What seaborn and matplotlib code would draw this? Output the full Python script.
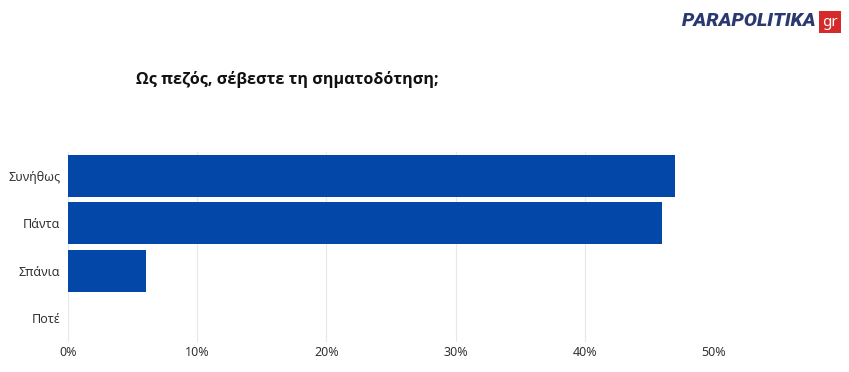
import matplotlib
matplotlib.use("Agg")
import matplotlib.pyplot as plt
import seaborn as sns
import pandas as pd

categories = ["Συνήθως", "Πάντα", "Σπάνια", "Ποτέ"]
values = [47, 46, 6, 0]
xticks = [0, 10, 20, 30, 40, 50]
xtick_labels = ["0%", "10%", "20%", "30%", "40%", "50%"]
title = "Ως πεζός, σέβεστε τη σηματοδότηση;"

sns.set_theme(style="white")
plt.rcParams["font.family"] = ["Noto Sans", "DejaVu Sans"]

df = pd.DataFrame({"cat": categories, "val": values})

fig = plt.figure(figsize=(8.49, 3.72), dpi=100)
W, H = 849, 372
left, right = 68, 714
top, bottom = 152, 342
ax = fig.add_axes([left / W, 1 - bottom / H, (right - left) / W, (bottom - top) / H])

sns.barplot(data=df, y="cat", x="val", order=categories, color="#0347a9",
            saturation=1, width=0.89, ax=ax, orient="h", linewidth=0)

ax.set_xlim(0, 50)
ax.set_ylim(3.5, -0.5)
ax.set_xticks(xticks)
ax.set_xticklabels(xtick_labels, fontsize=9, color="#333333")
ax.tick_params(axis="y", labelsize=9, labelcolor="#333333", length=0, pad=5.5)
ax.tick_params(axis="x", length=0, pad=3)
ax.set_xlabel("")
ax.set_ylabel("")
ax.grid(axis="x", color="#e8e8e8", linewidth=0.8)
ax.set_axisbelow(True)
for s in ax.spines.values():
    s.set_visible(False)

fig.text(136 / W, 1 - 80 / H, title, fontsize=11.6, fontweight="bold",
         color="#111111", va="center", ha="left", family=["Open Sans", "DejaVu Sans"])

# logo
fig.text(682 / W, 1 - 21 / H, "PARAPOLITIKA", fontsize=14, fontweight="black",
         fontstyle="italic", color="#2a3a70", va="center", ha="left",
         family=["Roboto", "DejaVu Sans"])
fig.text(822 / W, 1 - 22 / H, "gr", fontsize=11, fontweight="bold",
         color="white", va="center", ha="left",
         bbox=dict(boxstyle="square,pad=0.2", fc="#d42a2a", ec="none"))

fig.savefig("out.png", dpi=100, facecolor="white")
